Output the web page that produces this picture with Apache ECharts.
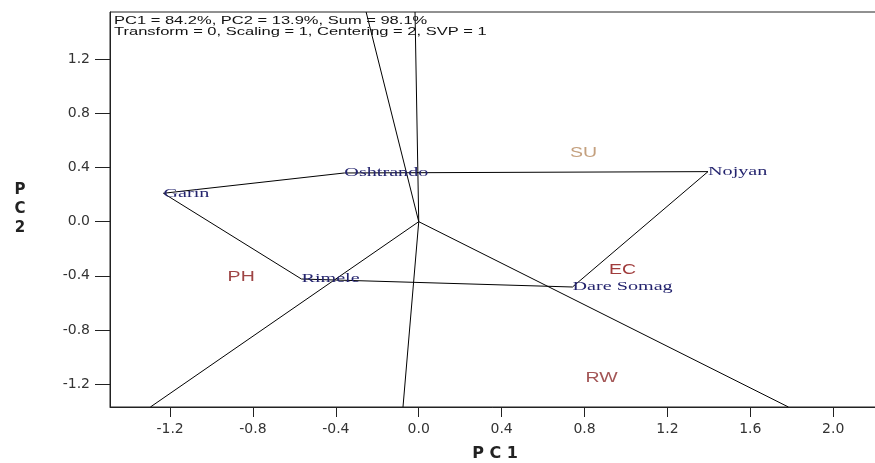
<!DOCTYPE html>
<html>
<head>
<meta charset="utf-8">
<script src="https://cdn.jsdelivr.net/npm/echarts@6/dist/echarts.min.js"></script>
<style>
html,body{margin:0;padding:0;background:#fff;}
#chart{width:875px;height:463px;}
</style>
</head>
<body>
<div id="chart"></div>
<script>
// ---- data ----
const genotypes = ['Garin', 'Oshtrando', 'Nojyan', 'Dare Somag', 'Rimele'];
const genoPC1 = [-1.232, -0.359, 1.396, 0.742, -0.566];
const genoPC2 = [0.210, 0.360, 0.370, -0.483, -0.424];
const polygonOrder = [0, 1, 2, 3, 4, 0];

const environments = ['SU', 'EC', 'PH', 'RW'];
const envPC1 = [0.795, 0.983, -0.857, 0.882];
const envPC2 = [0.510, -0.357, -0.407, -1.156];
const envColors = ['#c4a07e', '#a03c3c', '#9e4545', '#a35555'];

// perpendicular rays from the origin (end points at the frame)
const rayEndPC1 = [-0.018, -0.254, -1.295, -0.076, 1.784];
const rayEndPC2 = [1.55, 1.55, -1.37, -1.37, -1.37];

const xTicks = [-1.2, -0.8, -0.4, 0.0, 0.4, 0.8, 1.2, 1.6, 2.0];
const yTicks = [-1.2, -0.8, -0.4, 0.0, 0.4, 0.8, 1.2];
const xRange = [-1.49, 2.226];
const yRange = [-1.37, 1.55];

const infoLine1 = 'PC1 = 84.2%, PC2 = 13.9%, Sum = 98.1%';
const infoLine2 = 'Transform = 0, Scaling = 1, Centering = 2, SVP = 1';

// ---- chart ----
const chart = echarts.init(document.getElementById('chart'), null, {renderer: 'canvas'});

const fmt = v => Number(v).toFixed(1);

function textRender(names, colors, font, scaleX, align) {
  return function (params, api) {
    const p = api.coord([api.value(0), api.value(1)]);
    return {
      type: 'text',
      x: p[0],
      y: p[1],
      scaleX: scaleX,
      style: {
        text: names[params.dataIndex],
        font: font,
        fill: Array.isArray(colors) ? colors[params.dataIndex] : colors,
        align: align,
        verticalAlign: 'middle'
      }
    };
  };
}

const series = [];

// polygon
series.push({
  type: 'line',
  data: polygonOrder.map(i => [genoPC1[i], genoPC2[i]]),
  symbol: 'none',
  lineStyle: {color: '#000', width: 1},
  silent: true,
  z: 2
});

// rays
rayEndPC1.forEach((x, i) => {
  series.push({
    type: 'line',
    data: [[0, 0], [x, rayEndPC2[i]]],
    symbol: 'none',
    lineStyle: {color: '#000', width: 1},
    silent: true,
    z: 2
  });
});

// genotype labels
series.push({
  type: 'custom',
  data: genotypes.map((n, i) => [genoPC1[i], genoPC2[i]]),
  renderItem: textRender(genotypes, '#24246e', '13px "Liberation Serif"', 1.55, 'left'),
  silent: true,
  z: 3
});

// environment labels
series.push({
  type: 'custom',
  data: environments.map((n, i) => [envPC1[i], envPC2[i]]),
  renderItem: textRender(environments, envColors, '15px "Liberation Sans"', 1.3, 'center'),
  silent: true,
  z: 3
});

const option = {
  animation: false,
  backgroundColor: '#fff',
  grid: {
    left: 110, top: 12, width: 770, height: 395,
    outerBoundsMode: 'none',
    containLabel: false,
    show: true, borderColor: '#222', borderWidth: 1, backgroundColor: 'transparent'
  },
  xAxis: {
    type: 'value',
    min: xRange[0], max: xRange[1],
    splitLine: {show: false},
    axisLine: {show: true, onZero: false, lineStyle: {color: '#222', width: 1}},
    axisTick: {show: true, inside: false, length: 10, customValues: xTicks, lineStyle: {color: '#222'}},
    axisLabel: {
      customValues: xTicks, formatter: fmt, margin: 15,
      fontFamily: 'DejaVu Sans', fontSize: 14, color: '#333'
    },
    name: 'P C 1',
    nameLocation: 'middle',
    nameGap: 39,
    nameTextStyle: {fontFamily: 'DejaVu Sans', fontWeight: 'bold', fontSize: 16, color: '#222'}
  },
  yAxis: {
    type: 'value',
    min: yRange[0], max: yRange[1],
    splitLine: {show: false},
    axisLine: {show: true, onZero: false, lineStyle: {color: '#222', width: 1}},
    axisTick: {show: true, inside: false, length: 15, customValues: yTicks, lineStyle: {color: '#222'}},
    axisLabel: {
      customValues: yTicks, formatter: fmt, margin: 20,
      fontFamily: 'DejaVu Sans', fontSize: 14, color: '#333'
    },
    name: 'P\nC\n2',
    nameLocation: 'middle',
    nameRotate: 0,
    nameGap: 90,
    nameTextStyle: {fontFamily: 'DejaVu Sans', fontWeight: 'bold', fontSize: 15, color: '#222',
      align: 'center', verticalAlign: 'middle', lineHeight: 19, padding: [0, 0, 8, 0]}
  },
  graphic: [
    {type: 'text', x: 114, y: 21, scaleX: 1.5, z: 10,
      style: {text: infoLine1, font: '11px "Liberation Sans"', fill: '#111', verticalAlign: 'middle'}},
    {type: 'text', x: 114, y: 32, scaleX: 1.5, z: 10,
      style: {text: infoLine2, font: '11px "Liberation Sans"', fill: '#111', verticalAlign: 'middle'}}
  ],
  series: series
};

chart.setOption(option);
</script>
</body>
</html>
